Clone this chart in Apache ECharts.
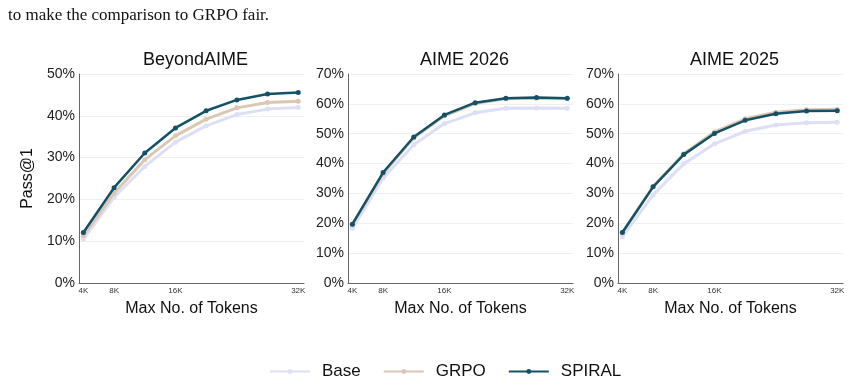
<!DOCTYPE html>
<html><head><meta charset="utf-8">
<script src="https://cdn.jsdelivr.net/npm/echarts@6/dist/echarts.min.js"></script>
<style>html,body{margin:0;padding:0;background:#fff}#c{width:856px;height:383px}</style>
</head><body><div id="c"></div>
<script>
const tokens = [4, 8, 12, 16, 20, 24, 28, 32];
const tickLabels = [4, 8, 16, 32];
const panelTitles = ['BeyondAIME', 'AIME 2026', 'AIME 2025'];
const seriesNames = ['Base', 'GRPO', 'SPIRAL'];
const yMax = [50, 70, 70];

const beyondBase   = [10.5, 20.5, 27.9, 33.7, 37.6, 40.3, 41.6, 42.0];
const beyondGRPO   = [11.3, 21.5, 29.5, 35.2, 39.2, 41.9, 43.2, 43.5];
const beyondSPIRAL = [12.1, 22.8, 31.1, 37.1, 41.2, 43.8, 45.2, 45.6];

const aime26Base   = [18.3, 35.1, 46.3, 53.4, 57.0, 58.5, 58.6, 58.5];
const aime26GRPO   = [19.5, 36.6, 48.6, 56.0, 60.1, 61.7, 61.9, 61.7];
const aime26SPIRAL = [19.7, 37.0, 48.9, 56.3, 60.4, 61.9, 62.1, 61.9];

const aime25Base   = [15.5, 29.5, 39.9, 46.6, 50.8, 52.9, 53.7, 53.8];
const aime25GRPO   = [17.0, 32.3, 43.3, 50.6, 55.0, 57.2, 58.0, 58.2];
const aime25SPIRAL = [16.9, 32.2, 43.0, 50.1, 54.5, 56.7, 57.6, 57.7];

const panels = [
  [beyondBase, beyondGRPO, beyondSPIRAL],
  [aime26Base, aime26GRPO, aime26SPIRAL],
  [aime25Base, aime25GRPO, aime25SPIRAL]
];
const colors = ['#dcdff5', '#dcc7b5', '#135266'];
const lefts = [79, 348, 618];
const gridW = 225, gridTop = 74, gridH = 209;
const font = '"Liberation Sans", Arial, Helvetica, sans-serif';

const chart = echarts.init(document.getElementById('c'), null, {renderer: 'canvas'});
const grids = [], xAxes = [], yAxes = [], titles = [], series = [];
panels.forEach((p, i) => {
  grids.push({left: lefts[i], top: gridTop, width: gridW, height: gridH, containLabel: false});
  titles.push({text: panelTitles[i], left: lefts[i] + gridW / 2 - 1, top: 46, textAlign: 'center',
    textStyle: {fontFamily: font, fontSize: 18, fontWeight: 'normal', color: '#111'}});
  xAxes.push({type: 'value', gridIndex: i, min: 3.43, max: 32.75,
    name: 'Max No. of Tokens', nameLocation: 'middle', nameGap: 18,
    nameTextStyle: {fontFamily: font, fontSize: 16, color: '#111'},
    axisLine: {show: true, lineStyle: {color: '#666', width: 1}},
    axisTick: {show: false}, splitLine: {show: false},
    axisLabel: {customValues: tickLabels, formatter: v => v + 'K', fontFamily: font, fontSize: 8, color: '#333', margin: 4}});
  yAxes.push({type: 'value', gridIndex: i, min: 0, max: yMax[i], interval: 10,
    name: i === 0 ? 'Pass@1' : '', nameLocation: 'middle', nameGap: 43, nameRotate: 90,
    nameTextStyle: {fontFamily: font, fontSize: 16, color: '#111'},
    axisLine: {show: true, lineStyle: {color: '#666', width: 1}},
    axisTick: {show: false},
    splitLine: {show: true, lineStyle: {color: '#f0f0f0', width: 1}},
    axisLabel: {formatter: v => v + '%', fontFamily: font, fontSize: 14, color: '#222', margin: 4}});
  p.forEach((vals, k) => {
    series.push({name: seriesNames[k], type: 'line', xAxisIndex: i, yAxisIndex: i,
      data: tokens.map((t, j) => [t, vals[j]]),
      symbol: 'circle', symbolSize: 5, showSymbol: true,
      lineStyle: {color: colors[k], width: k === 2 ? 2.5 : 3},
      itemStyle: {color: colors[k]}, z: 2 + k, animation: false});
  });
});

titles.push({text: 'to make the comparison to GRPO fair.', left: 8, top: 7, padding: 0,
  textStyle: {fontFamily: '"Liberation Serif", "Times New Roman", serif', fontSize: 17, fontWeight: 'normal', color: '#111'}});

chart.setOption({
  animation: false,
  title: titles,
  grid: grids, xAxis: xAxes, yAxis: yAxes, series: series,
  legend: {data: seriesNames, top: 358, left: 264, itemWidth: 40, itemHeight: 6, itemGap: 22,
    textStyle: {fontFamily: font, fontSize: 17, color: '#111', padding: [0, 0, 0, 7]}}
});
</script></body></html>
